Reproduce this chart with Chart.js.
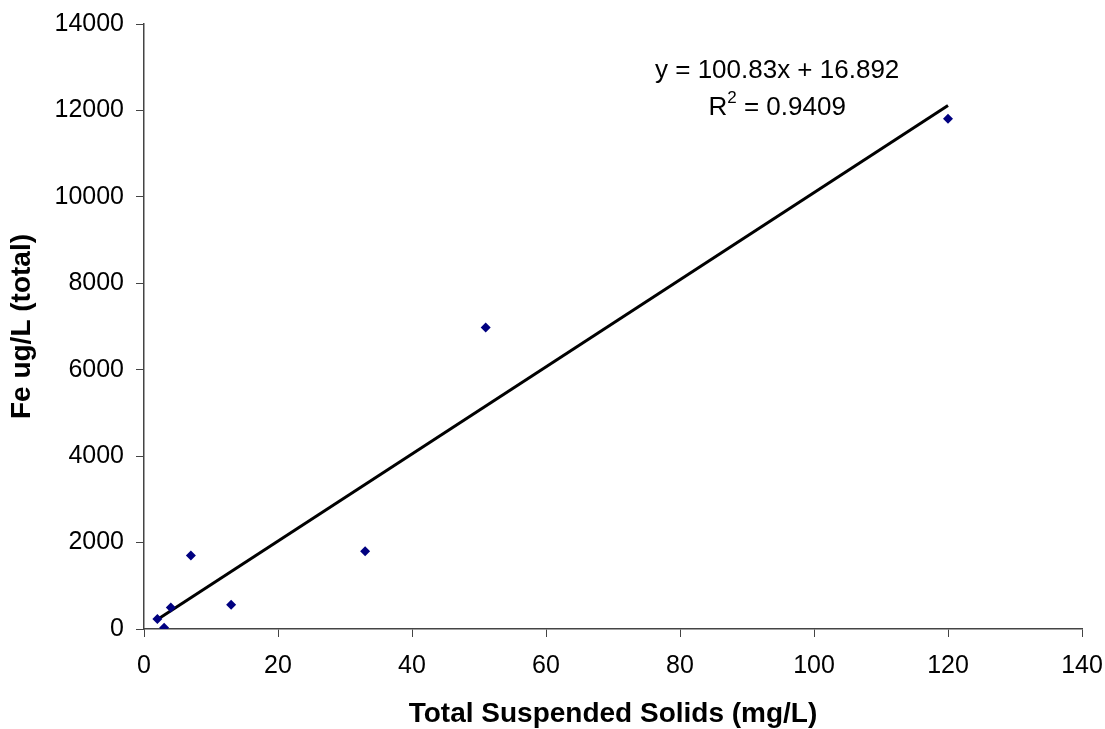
<!DOCTYPE html>
<html>
<head>
<meta charset="utf-8">
<script src="https://cdn.jsdelivr.net/npm/chart.js@4/dist/chart.umd.min.js"></script>
<style>
  html, body { margin: 0; padding: 0; background: #fff; }
  #wrap { width: 1105px; height: 729px; }
</style>
</head>
<body>
<div id="wrap"><canvas id="tssChart"></canvas></div>
<script>
// Data
const tss = [2, 3, 4, 7, 13, 33, 51, 120];
const feTotal = [230, 30, 500, 1700, 560, 1800, 6975, 11810];
const fitSlope = 100.83;
const fitIntercept = 16.892;
const fitLabel = ['y = 100.83x + 16.892', 'R', '2', ' = 0.9409'];

const xTitle = 'Total Suspended Solids (mg/L)';
const yTitle = 'Fe ug/L (total)';

const points = tss.map((x, i) => ({ x, y: feTotal[i] }));
const xMin = Math.min(...tss), xMax = Math.max(...tss);
const fitLine = [xMin, xMax].map(x => ({ x, y: fitSlope * x + fitIntercept }));

const font = 'Arial, "Liberation Sans", sans-serif';

// Equation + R² text
const equationPlugin = {
  id: 'equation',
  afterDatasetsDraw(chart) {
    const { ctx, scales } = chart;
    const cx = scales.x.getPixelForValue(94.5);
    ctx.save();
    ctx.fillStyle = '#000';
    ctx.font = '26px ' + font;
    ctx.textAlign = 'center';
    ctx.textBaseline = 'middle';
    ctx.fillText(fitLabel[0], cx, scales.y.getPixelForValue(12917));
    // R² line
    const y2 = scales.y.getPixelForValue(12050);
    const wR = ctx.measureText(fitLabel[1]).width;
    const wRest = ctx.measureText(fitLabel[3]).width;
    ctx.font = '17px ' + font;
    const wSup = ctx.measureText(fitLabel[2]).width;
    const x0 = cx - (wR + wSup + wRest) / 2;
    ctx.textAlign = 'left';
    ctx.font = '26px ' + font;
    ctx.fillText(fitLabel[1], x0, y2);
    ctx.font = '17px ' + font;
    ctx.fillText(fitLabel[2], x0 + wR, y2 - 10);
    ctx.font = '26px ' + font;
    ctx.fillText(fitLabel[3], x0 + wR + wSup, y2);
    ctx.restore();
  }
};

new Chart(document.getElementById('tssChart'), {
  type: 'scatter',
  data: {
    datasets: [
      {
        label: 'Fe',
        data: points,
        pointStyle: 'rectRot',
        pointRadius: 5,
        backgroundColor: '#000080',
        borderColor: '#000080',
        borderWidth: 0,
        order: 1
      },
      {
        label: 'Linear',
        type: 'line',
        data: fitLine,
        borderColor: '#000',
        borderWidth: 3,
        pointRadius: 0,
        fill: false,
        order: 2
      }
    ]
  },
  options: {
    responsive: true,
    maintainAspectRatio: false,
    animation: false,
    layout: { padding: { top: 24, right: 23, left: 0, bottom: 0 } },
    plugins: {
      legend: { display: false },
      tooltip: { enabled: false }
    },
    scales: {
      x: {
        type: 'linear',
        min: 0, max: 140,
        afterFit(scale) {
          scale.height = 100;
          scale.paddingLeft = 0;
          scale.paddingRight = 0;
        },
        ticks: {
          stepSize: 20,
          color: '#000',
          padding: 14,
          font: { family: font, size: 25 },
          callback: v => String(v)
        },
        grid: {
          drawOnChartArea: false,
          tickLength: 8,
          color: '#444'
        },
        border: { color: '#444', width: 1.5 },
        title: {
          display: true,
          text: xTitle,
          color: '#000',
          padding: { top: 4, bottom: -2 },
          font: { family: font, size: 28, weight: 'bold' }
        }
      },
      y: {
        type: 'linear',
        min: 0, max: 14000,
        afterFit(scale) {
          scale.width = 144;
          scale.paddingTop = 0;
          scale.paddingBottom = 0;
        },
        ticks: {
          stepSize: 2000,
          color: '#000',
          padding: 12,
          font: { family: font, size: 25 },
          callback: v => String(v)
        },
        grid: {
          drawOnChartArea: false,
          tickLength: 8,
          color: '#444'
        },
        border: { color: '#444', width: 1.5 },
        title: {
          display: true,
          text: yTitle,
          color: '#000',
          padding: { top: 5, bottom: 0 },
          font: { family: font, size: 28, weight: 'bold' }
        }
      }
    }
  },
  plugins: [equationPlugin]
});
</script>
</body>
</html>
